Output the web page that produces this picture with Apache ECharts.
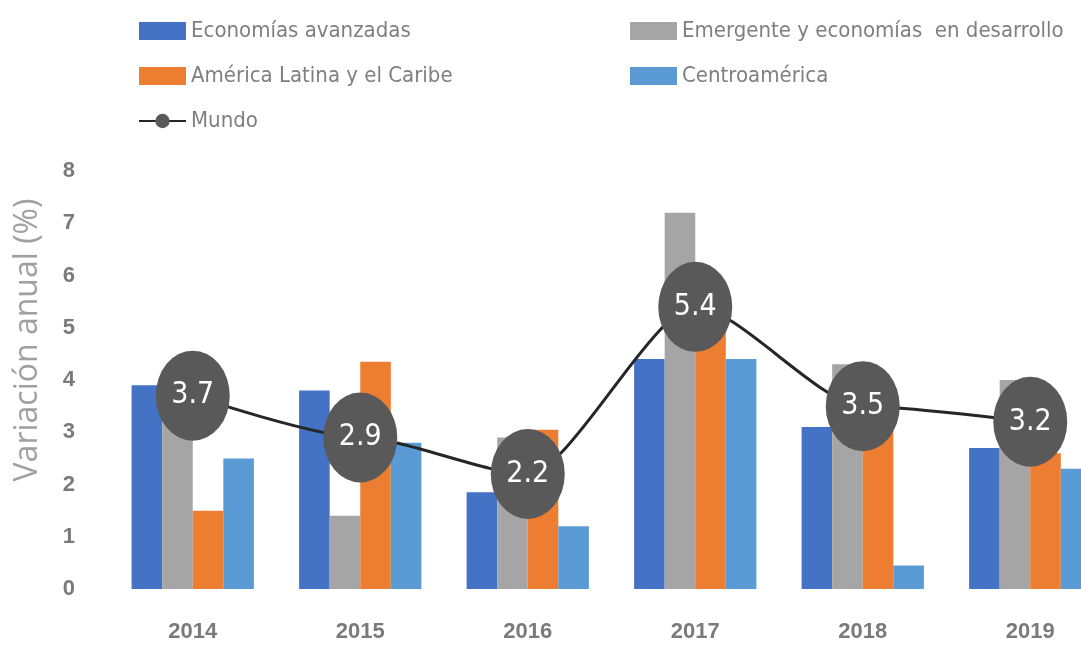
<!DOCTYPE html>
<html>
<head>
<meta charset="utf-8">
<script src="https://cdn.jsdelivr.net/npm/echarts@6/dist/echarts.min.js"></script>
<style>
  html, body { margin: 0; padding: 0; background: #fff; }
  #chart { width: 1081px; height: 646px; }
</style>
</head>
<body>
<div id="chart"></div>
<script>
var years = ['2014', '2015', '2016', '2017', '2018', '2019'];
var avanzadas = [3.9, 3.8, 1.85, 4.4, 3.1, 2.7];
var emergentes = [3.6, 1.4, 2.9, 7.2, 4.3, 4.0];
var latam = [1.5, 4.35, 3.05, 5.0, 3.0, 2.6];
var centro = [2.5, 2.8, 1.2, 4.4, 0.45, 2.3];
var mundo = [3.7, 2.9, 2.2, 5.4, 3.5, 3.2];

var narrow = '"Liberation Sans Narrow", "DejaVu Sans Condensed", sans-serif';

var chart = echarts.init(document.getElementById('chart'));

function barSeries(name, data, color) {
    return {
        name: name,
        type: 'bar',
        data: data,
        barGap: '0%',
        barCategoryGap: '27%',
        itemStyle: { color: color },
        z: 2
    };
}

var legendText = { color: '#7f7f7f', fontSize: 22, fontFamily: narrow };

var option = {
    animation: false,
    textStyle: { fontFamily: narrow },
    legend: [
        {
            orient: 'vertical',
            left: 138,
            top: 20,
            padding: 0,
            itemWidth: 47,
            itemHeight: 18,
            itemGap: 23,
            textStyle: legendText,
            data: [
                { name: 'Economías avanzadas', icon: 'rect' },
                { name: 'América Latina y el Caribe', icon: 'rect' },
                'Mundo'
            ]
        },
        {
            orient: 'vertical',
            left: 630,
            top: 20,
            padding: 0,
            itemWidth: 47,
            itemHeight: 18,
            itemGap: 23,
            textStyle: legendText,
            data: [
                { name: 'Emergente y economías  en desarrollo', icon: 'rect' },
                { name: 'Centroamérica', icon: 'rect' }
            ]
        }
    ],
    grid: {
        left: 109,
        top: 171,
        width: 1005,
        height: 418,
        outerBoundsMode: 'none'
    },
    xAxis: {
        type: 'category',
        data: years,
        axisLine: { show: false },
        axisTick: { show: false },
        axisLabel: {
            margin: 32,
            color: '#7a7a7a',
            fontSize: 22,
            fontWeight: 'bold',
            fontFamily: 'Liberation Sans, sans-serif'
        }
    },
    yAxis: {
        type: 'value',
        min: 0,
        max: 8,
        interval: 1,
        splitLine: { show: false },
        axisLine: { show: false },
        axisTick: { show: false },
        axisLabel: {
            margin: 34,
            color: '#7a7a7a',
            fontSize: 22,
            fontWeight: 'bold',
            fontFamily: 'Liberation Sans, sans-serif'
        }
    },
    graphic: [
        {
            type: 'text',
            x: 28,
            y: 340,
            rotation: Math.PI / 2,
            style: {
                text: 'Variación anual (%)',
                fill: '#a0a0a0',
                font: '32px "Open Sans", sans-serif',
                textAlign: 'center',
                textVerticalAlign: 'middle'
            }
        }
    ],
    series: [
        barSeries('Economías avanzadas', avanzadas, '#4472C4'),
        barSeries('Emergente y economías  en desarrollo', emergentes, '#A5A5A5'),
        barSeries('América Latina y el Caribe', latam, '#ED7D31'),
        barSeries('Centroamérica', centro, '#5B9BD5'),
        {
            name: 'Mundo',
            type: 'line',
            data: mundo,
            smooth: 0.25,
            smoothMonotone: 'x',
            symbol: 'circle',
            symbolSize: [74, 90],
            z: 5,
            lineStyle: { color: '#262626', width: 3 },
            itemStyle: { color: '#595959' },
            label: {
                show: true,
                position: 'inside',
                color: '#ffffff',
                fontSize: 30,
                fontFamily: narrow
            }
        }
    ]
};

chart.setOption(option);
</script>
</body>
</html>
